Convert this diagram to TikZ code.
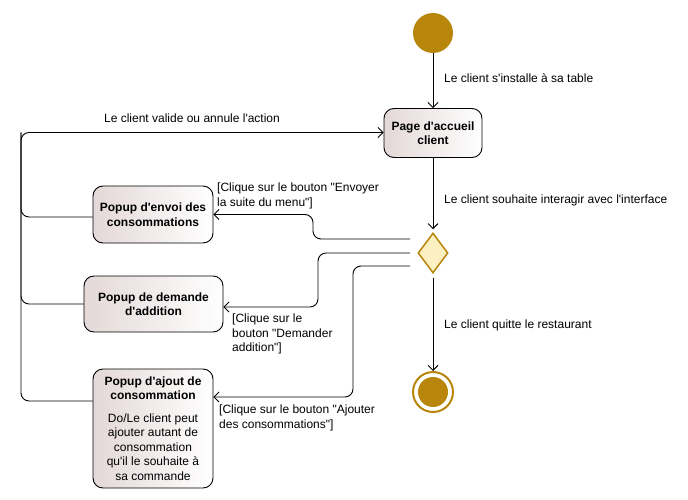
\documentclass[tikz,border=0pt]{standalone}
\usepackage{fontspec}
\setmainfont{Liberation Sans}[Ligatures=TeXOff]
\usetikzlibrary{shapes.geometric, arrows.meta, positioning}
\definecolor{umlgold}{HTML}{B8860B}
\definecolor{umlcream}{HTML}{FCEFC2}
\definecolor{umlshade}{HTML}{E4D8D8}
\newcommand\diagsize{\fontsize{12}{14.5}\selectfont}
\tikzset{
  activity/.style={rounded corners=10pt, draw, line width=0.9pt, left color=umlshade, right color=white, align=center, font=\diagsize\bfseries, inner sep=2pt},
  wire/.style={line width=0.9pt, rounded corners=8pt},
  flow/.style={wire, -{Straight Barb[length=5pt, width=10pt]}},
  lbl/.style={align=left, inner sep=0pt, anchor=west},
}

\begin{document}
\begin{tikzpicture}[x=1pt, y=-1pt, font=\diagsize]
    \path[use as bounding box, fill=white] (0,0) rectangle (688,500);

    % start, decision, end
    \node[circle, fill=umlgold, minimum size=40pt, inner sep=0pt] (start) at (433,33) {};
    \node[activity, minimum width=98pt, minimum height=49pt] (accueil) at (433,133) {Page d'accueil\\client};
    \node[diamond, draw=umlgold, fill=umlcream, line width=1.5pt, minimum width=30pt, minimum height=40pt, inner sep=0pt] (choice) at (433,253) {};
    \node[circle, draw=umlgold, line width=2pt, minimum size=40pt, inner sep=0pt] (end) at (433,392) {};
    \node[circle, fill=umlgold, minimum size=30pt, inner sep=0pt] (endcore) at (end.center) {};

    % popups
    \node[activity, minimum width=120pt, minimum height=57pt] (envoi) at (153,214.5) {Popup d'envoi des\\consommations};
    \node[activity, minimum width=139pt, minimum height=56pt] (addition) at (153.5,304) {Popup de demande\\d'addition};
    \node[activity, font=\diagsize, minimum width=120pt, minimum height=119pt] (ajout) at (153,428.5) {\textbf{Popup d'ajout de}\\\textbf{consommation}\\[8pt]Do/Le client peut\\ajouter autant de\\consommation\\qu'il le souhaite à\\sa commande};

    \coordinate (c1) at (410,239);
    \coordinate (c2) at (410,253);
    \coordinate (c3) at (410,266);
    \coordinate (back) at (21,132.5);

    \draw[flow] (start) -- (accueil);
    \draw[flow, shorten >=3pt] (accueil) -- (choice);
    \draw[flow, shorten <=4pt] (choice) -- (end);

    \draw[flow] (c1) -- ++(-97,0) |- (envoi.east);
    \draw[flow] (c2) -- ++(-92,0) |- ([yshift=-3pt]addition.east);
    \draw[flow] (c3) -- ++(-57,0) |- ([yshift=31.5pt]ajout.east);

    \draw[wire] ([yshift=-2.5pt]envoi.west) -| (back);
    \draw[wire] (addition.west) -| (back);
    \draw[flow] ([yshift=27.5pt]ajout.west) -| (back) -- (accueil.west |- back);

    % labels
    \node[lbl] (lstart) at (444,78) {Le client s'installe à sa table};
    \node[lbl] (linter) at (444,200) {Le client souhaite interagir avec l'interface};
    \node[lbl] (lquit) at (444,325) {Le client quitte le restaurant};
    \node[lbl, anchor=center] (lback) at (192,118) {Le client valide ou annule l'action};
    \node[lbl] (lsend) at (217,196) {[Clique sur le bouton "Envoyer\\la suite du menu"]};
    \node[lbl] (lbill) at (232,334) {[Clique sur le\\bouton "Demander\\addition"]};
    \node[lbl] (ladd) at (219,418) {[Clique sur le bouton "Ajouter\\des consommations"]};
\end{tikzpicture}
\end{document}
